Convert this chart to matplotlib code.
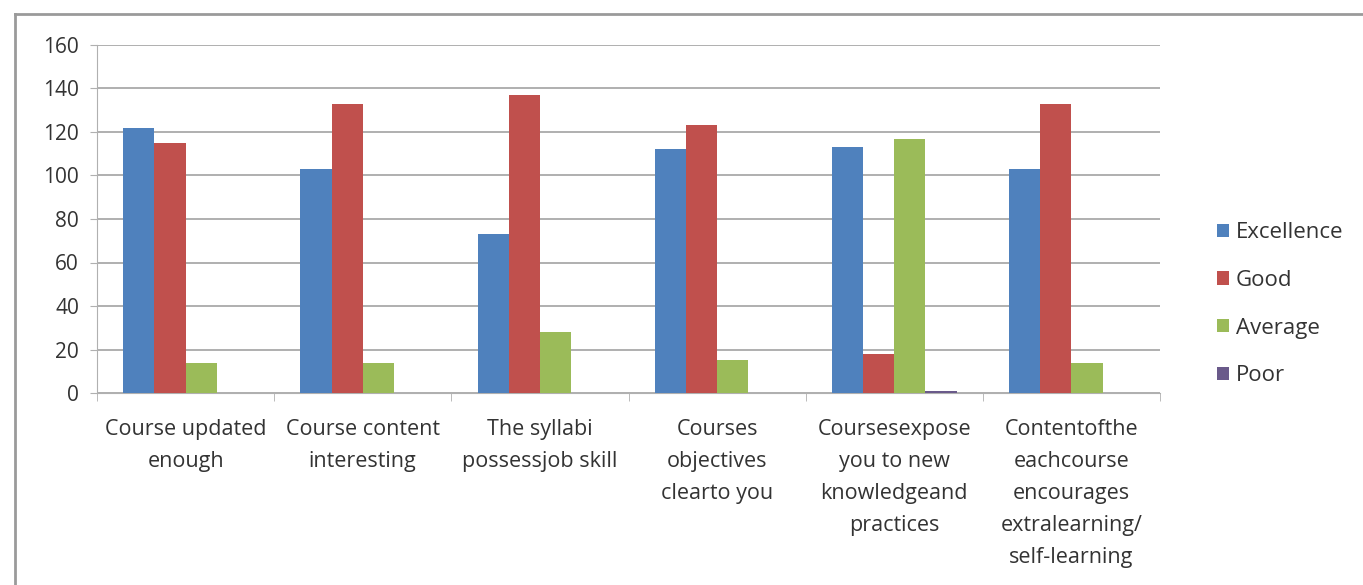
import matplotlib.pyplot as plt
import numpy as np
from matplotlib.lines import Line2D

categories = [
    "Course updated\nenough",
    "Course content\ninteresting",
    "The syllabi\npossessjob skill",
    "Courses\nobjectives\nclearto you",
    "Coursesexpose\nyou to new\nknowledgeand\npractices",
    "Contentofthe\neachcourse\nencourages\nextralearning/\nself-learning",
]
series_names = ["Excellence", "Good", "Average", "Poor"]
excellence = [122, 103, 73, 112, 113, 103]
good = [115, 133, 137, 123, 18, 133]
average = [14, 14, 28, 15, 117, 14]
poor = [0, 0, 0, 0, 1, 0]
y_ticks = [0, 20, 40, 60, 80, 100, 120, 140, 160]

colors = ["#4F81BD", "#C0504D", "#9BBB59", "#6A5A8A"]
TEXT = "#333333"

plt.rcParams['font.family'] = ['Open Sans', 'DejaVu Sans']

fig = plt.figure(figsize=(13.63, 5.85), dpi=100)
ax = fig.add_axes([97/1363, 1-393/585, (1160-97)/1363, (393-45)/585])

x = np.arange(len(categories))
w = 0.176
data = [excellence, good, average, poor]
for i, (vals, name) in enumerate(zip(data, series_names)):
    ax.bar(x + (i - 1.5) * w, vals, w, color=colors[i], label=name, zorder=3)

ax.set_xlim(-0.5, len(categories) - 0.5)
ax.set_ylim(0, 160)
ax.set_yticks(y_ticks)
ax.yaxis.grid(True, color="#9a9a9a", lw=1.1, zorder=0)
for s in ["top", "right"]:
    ax.spines[s].set_visible(False)
ax.spines["left"].set_color("#b0b0b0")
ax.spines["bottom"].set_color("#b0b0b0")
ax.tick_params(axis="y", length=5, color="#b0b0b0", labelsize=15, labelcolor=TEXT, pad=8)

ax.set_xticks(x)
ax.set_xticklabels(categories, fontsize=15.5, color=TEXT, linespacing=1.68)
ax.tick_params(axis="x", length=0, pad=19)
ax.set_xticks(np.arange(-0.5, len(categories)), minor=True)
ax.tick_params(axis="x", which="minor", length=6, color="#b0b0b0")

leg = ax.legend(loc="center left", bbox_to_anchor=(1.035, 0.255), frameon=False,
                fontsize=16, handlelength=0.55, handleheight=0.55, handletextpad=0.3,
                labelspacing=1.2, labelcolor=TEXT)

fig.add_artist(Line2D([15/1363, 1], [1-14/585, 1-14/585], transform=fig.transFigure, color="#9a9a9a", lw=2))
fig.add_artist(Line2D([15/1363, 15/1363], [0, 1-14/585], transform=fig.transFigure, color="#9a9a9a", lw=2))

fig.savefig("out.png", dpi=100)
